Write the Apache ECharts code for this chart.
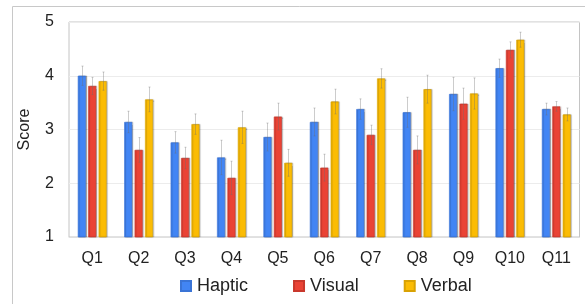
<!DOCTYPE html>
<html><head><meta charset="utf-8">
<script src="https://cdn.jsdelivr.net/npm/echarts@6/dist/echarts.min.js"></script>
<style>html,body{margin:0;padding:0;background:#fff}#c{width:585px;height:304px}</style>
</head><body><div id="c"></div>
<script>
const categories = ['Q1','Q2','Q3','Q4','Q5','Q6','Q7','Q8','Q9','Q10','Q11'];
const seriesNames = ['Haptic','Visual','Verbal'];
const haptic = [4.00,3.14,2.76,2.48,2.86,3.14,3.38,3.32,3.66,4.14,3.38];
const visual = [3.81,2.62,2.47,2.10,3.24,2.29,2.90,2.62,3.48,4.48,3.43];
const verbal = [3.90,3.56,3.10,3.04,2.38,3.52,3.95,3.75,3.67,4.67,3.28];
const hapticErr = [0.18,0.20,0.20,0.32,0.26,0.26,0.19,0.28,0.31,0.17,0.11];
const visualErr = [0.16,0.23,0.20,0.31,0.25,0.25,0.18,0.26,0.29,0.15,0.09];
const verbalErr = [0.17,0.23,0.19,0.30,0.25,0.23,0.18,0.26,0.29,0.14,0.12];
const yTicks = [1,2,3,4,5];

const colors = ['#4285F4','#EA4335','#FBBC04'];
const borders = ['#3a74d6','#c9382c','#d9a203'];
const values = [haptic, visual, verbal];
const errs = [hapticErr, visualErr, verbalErr];
const offsets = [-10.4, 0, 10.4];

const chart = echarts.init(document.getElementById('c'), null, {renderer:'canvas'});
const FONT = 'Liberation Sans, Arial, sans-serif';

const series = [];
seriesNames.forEach((n,i)=>{
  series.push({
    name:n, type:'bar', data:values[i], barWidth:8, barGap:'30%',
    itemStyle:{color:colors[i], borderColor:borders[i], borderWidth:0.6,
      shadowColor:'rgba(0,0,0,0.28)', shadowBlur:1, shadowOffsetX:1, shadowOffsetY:0},
    emphasis:{disabled:true}, animation:false
  });
});
seriesNames.forEach((n,i)=>{
  series.push({
    type:'custom', name:n+'_err', silent:true, animation:false, z:5,
    data: values[i].map((v,k)=>[k, v-errs[i][k], v+errs[i][k]]),
    renderItem:(params, api)=>{
      const lo = api.coord([api.value(0), api.value(1)]);
      const hi = api.coord([api.value(0), api.value(2)]);
      const x = Math.round(lo[0] + offsets[i]) + 0.5;
      return {type:'group', children:[
        {type:'line', shape:{x1:x,y1:lo[1],x2:x,y2:hi[1]}, style:{stroke:'rgba(110,110,110,0.35)', lineWidth:1}},
        {type:'line', shape:{x1:x-1,y1:hi[1],x2:x+1,y2:hi[1]}, style:{stroke:'rgba(110,110,110,0.35)', lineWidth:1}},
        {type:'line', shape:{x1:x-1,y1:lo[1],x2:x+1,y2:lo[1]}, style:{stroke:'rgba(110,110,110,0.35)', lineWidth:1}}
      ]};
    }
  });
});

chart.setOption({
  animation:false,
  color:colors,
  textStyle:{fontFamily:FONT},
  graphic:[{type:'rect', shape:{x:12.5,y:6.5,width:800,height:600}, style:{fill:'none', stroke:'#c8c8c8', lineWidth:1}, silent:true, z:-10}],
  grid:{left:69, right:5.5, top:22, bottom:67, show:true, borderColor:'#c4c4c4', borderWidth:1, backgroundColor:'transparent'},
  legend:{
    data:seriesNames, top:277, left:180, padding:0, icon:'rect', itemWidth:10, itemHeight:10,
    itemGap:45, textStyle:{fontSize:18, color:'#222', fontFamily:FONT, padding:[0,0,0,1]}
  },
  xAxis:{
    type:'category', data:categories,
    axisLine:{show:true, lineStyle:{color:'#e0e0e0'}}, axisTick:{show:false},
    axisLabel:{fontSize:16, color:'#222', margin:14, fontFamily:FONT}
  },
  yAxis:{
    type:'value', min:yTicks[0], max:yTicks[yTicks.length-1], interval:1,
    name:'Score', nameLocation:'middle', nameGap:36, nameRotate:90,
    nameTextStyle:{fontSize:16, color:'#222', fontFamily:FONT},
    axisLine:{show:false}, axisTick:{show:false},
    axisLabel:{fontSize:16, color:'#222', margin:15, fontFamily:FONT},
    splitLine:{lineStyle:{color:'#ececec'}}
  },
  series:series
});
</script></body></html>
